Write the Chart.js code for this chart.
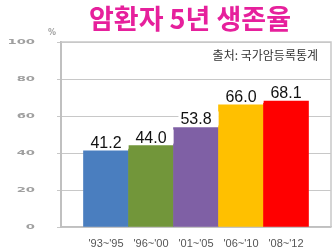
<!DOCTYPE html>
<html><head><meta charset="utf-8">
<script src="https://cdn.jsdelivr.net/npm/chart.js@4"></script>
<style>html,body{margin:0;padding:0;background:#fff}#wrap{width:335px;height:248px}</style>
</head><body><div id="wrap"><canvas id="c" width="335" height="248"></canvas></div>
<script>
const categories = ["'93~'95", "'96~'00", "'01~'05", "'06~'10", "'08~'12"];
const survival = [41.2, 44.0, 53.8, 66.0, 68.1];
const barColors = ['#4A7EBF', '#72963A', '#7F60A5', '#FFC000', '#FF0000'];
const yTicks = [0, 20, 40, 60, 80, 100];
const titleText = '암환자 5년 생존율';
const sourceText = '출처: 국가암등록통계';
const unitText = '%';

const extras = {
  id: 'extras',
  beforeDatasetsDraw(chart) {
    const ctx = chart.ctx, a = chart.chartArea;
    ctx.save();
    ctx.strokeStyle = '#c8c8c8'; ctx.lineWidth = 1.5;
    ctx.beginPath();
    ctx.moveTo(a.left, a.top); ctx.lineTo(a.right, a.top); ctx.lineTo(a.right, a.bottom);
    ctx.stroke();
    // title
    ctx.fillStyle = '#E6209C';
    ctx.font = 'bold 27px "Noto Sans CJK KR"';
    ctx.textAlign = 'center'; ctx.textBaseline = 'middle';
    ctx.fillText(titleText, 190, 19);
    // source
    ctx.fillStyle = '#333';
    ctx.font = '12px "Noto Sans CJK KR"';
    ctx.textAlign = 'right'; ctx.textBaseline = 'middle';
    ctx.fillText(sourceText, 318, 55);
    // y tick labels (stretched)
    const ys = chart.scales.y;
    ctx.fillStyle = '#a0a0a0';
    ctx.font = 'bold 8px "DejaVu Sans"';
    ys.ticks.forEach(t => {
      const py = ys.getPixelForValue(t.value);
      ctx.save();
      ctx.translate(35, py);
      ctx.scale(1.65, 0.85);
      ctx.textAlign = 'right'; ctx.textBaseline = 'middle';
      ctx.fillText(String(t.value), 0, 0);
      ctx.restore();
    });
    ctx.font = 'bold 8px "DejaVu Sans"';
    ctx.fillStyle = '#a0a0a0';
    ctx.textAlign = 'center'; ctx.textBaseline = 'middle';
    ctx.fillText(unitText, 52, 33);
    ctx.restore();
  },
  afterDatasetsDraw(chart) {
    const ctx = chart.ctx;
    const meta = chart.getDatasetMeta(0);
    ctx.save();
    ctx.font = '16px "Liberation Sans"';
    ctx.textAlign = 'center'; ctx.textBaseline = 'alphabetic';
    meta.data.forEach((bar, i) => {
      const txt = survival[i].toFixed(1);
      const w = ctx.measureText(txt).width;
      const base = bar.y - 3;
      ctx.fillStyle = '#fff';
      ctx.fillRect(bar.x - w / 2 - 2, base - 13, w + 9, 14);
      ctx.fillStyle = '#111';
      ctx.fillText(txt, bar.x, base);
    });
    ctx.restore();
  }
};

new Chart(document.getElementById('c'), {
  type: 'bar',
  data: {
    datasets: [{
      data: categories.map((c, i) => ({ x: i, y: survival[i] })),
      backgroundColor: barColors,
      borderWidth: 0,
      categoryPercentage: 1,
      barPercentage: 1
    }]
  },
  options: {
    responsive: false,
    animation: false,
    devicePixelRatio: 1,
    layout: { padding: { left: 0, right: 4, top: 42, bottom: 0 } },
    plugins: {
      legend: { display: false },
      tooltip: { enabled: false },
      title: { display: false }
    },
    scales: {
      x: {
        type: 'linear', min: -1, max: 5, offset: false,
        grid: { display: false, offset: false },
        border: { display: true, color: '#c0c0c0', width: 1.5 },
        ticks: {
          stepSize: 1, autoSkip: false, maxRotation: 0, padding: 2,
          color: '#555', font: { size: 11, family: '"Liberation Sans"' },
          callback: v => (categories[v] !== undefined ? categories[v] : '')
        },
        afterFit: s => { s.height = 21; }
      },
      y: {
        min: 0, max: 100,
        afterBuildTicks: s => { s.ticks = yTicks.map(v => ({ value: v })); },
        ticks: { display: false },
        grid: { color: '#c8c8c8', lineWidth: 1, drawTicks: true, tickLength: 4 },
        border: { display: true, color: '#c0c0c0', width: 2 },
        afterFit: s => { s.width = 61; }
      }
    }
  },
  plugins: [extras]
});
</script></body></html>
